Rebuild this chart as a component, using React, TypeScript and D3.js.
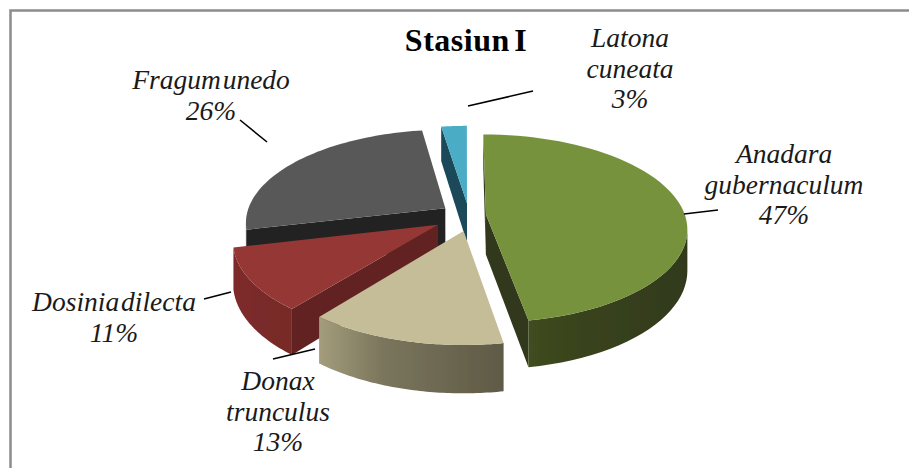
import React from "react";
import * as d3 from "d3";

const categories = ["Anadara gubernaculum", "Donax trunculus", "Dosinia dilecta", "Fragum unedo", "Latona cuneata"];
const shares = [47.3, 13.4, 10.6, 26.3, 2.4];
const labelLines = [["Anadara", "gubernaculum", "47%"], ["Donax", "trunculus", "13%"], ["Dosinia dilecta", "11%"], ["Fragum unedo", "26%"], ["Latona", "cuneata", "3%"]];
const topColors = ["#76923c", "#c4bd97", "#953735", "#595959", "#4bacc6"];
const cutColors = ["#31391a", "#6b6650", "#632320", "#232323", "#1d4a5a"];
const wallLight = ["#4a5a24", "#a39d7c", "#7e2c2a", "#252525", "#1d4a5a"];
const wallDark = ["#31391a", "#5f5a46", "#772a28", "#232323", "#1d4a5a"];

const sliceOffsets: [number, number][] = [[0.1, -0.005], [-0.012, 0.17], [-0.138, 0.105], [-0.105, -0.075], [0.005, -0.13]];
const labelAnchors: [number, number][] = [[784, 163], [278, 390], [114, 311], [211, 89], [630, 47]];
const leaders: [number, number, number, number][] = [[684, 214, 718, 210], [273, 359, 315, 349], [204, 299, 231, 292], [240, 120, 267, 142], [468, 106, 533, 91]];

const cx = 466, cy = 215, R = 199, K = 92, P = 0.147, H = 40;

const project = (u: number, v: number, drop = 0) => {
  const s = 1 / (1 - P * v);
  return [cx + R * u * s, cy + (K * v + drop) * s] as [number, number];
};

const arcs = d3.pie<number>().sort(null).value((d) => d)(shares);
const line = d3.line();

function Slice({ i }: { i: number }) {
  const a = arcs[i];
  const [du, dv] = sliceOffsets[i];
  const n = 60;
  const angles = d3.range(n + 1).map((t) => a.startAngle + ((a.endAngle - a.startAngle) * t) / n);
  const pt = (ang: number, drop = 0) => project(du + Math.sin(ang), dv - Math.cos(ang), drop);
  const apex = project(du, dv), apexB = project(du, dv, H);
  const rim = angles.map((g) => pt(g));
  const rimB = angles.map((g) => pt(g, H));
  const top = [apex, ...rim];
  const xs = rim.map((p) => p[0]);
  const faces: React.ReactElement[] = [];
  const face = (k: string, pts: [number, number][], col: string) =>
    faces.push(<path key={k} d={line(pts) + "Z"} fill={col} />);
  if (rim[0][0] < apex[0]) face("s", [apex, rim[0], rimB[0], apexB], cutColors[i]);
  if (apex[0] < rim[n][0]) face("e", [rim[n], apex, apexB, rimB[n]], cutColors[i]);
  const vis = d3.range(n).filter((t) => rim[t + 1][0] < rim[t][0]);
  const gradId = "wall" + i;
  if (vis.length) {
    const upper = [...vis.map((t) => rim[t]), rim[vis[vis.length - 1] + 1]];
    const lower = [...vis.map((t) => rimB[t]), rimB[vis[vis.length - 1] + 1]].reverse();
    face("w", [...upper, ...lower], `url(#${gradId})`);
  }
  return (
    <g>
      <linearGradient id={gradId} gradientUnits="userSpaceOnUse" x1={d3.min(xs)} x2={d3.max(xs)} y1={0} y2={0}>
        <stop offset="0" stopColor={wallLight[i]} />
        <stop offset="0.35" stopColor={d3.interpolateRgb(wallLight[i], wallDark[i])(0.6)} />
        <stop offset="1" stopColor={wallDark[i]} />
      </linearGradient>
      {faces}
      <path d={line(top) + "Z"} fill={topColors[i]} />
    </g>
  );
}

export default function App() {
  const order = [4, 3, 2, 1, 0];
  return (
    <svg width={909} height={468} style={{ position: "absolute", left: 0, top: 0, background: "#fff" }}>
      <defs>
        <filter id="soft" x="-5%" y="-5%" width="110%" height="110%">
          <feGaussianBlur stdDeviation="0.5" />
        </filter>
      </defs>
      <path d="M10.5 468V10.5H909" fill="none" stroke="#8c8c8c" strokeWidth={2.5} />
      <g filter="url(#soft)">
        {order.map((i) => (
          <Slice key={categories[i]} i={i} />
        ))}
      </g>
      <g stroke="#000" strokeWidth={1.6}>
        {leaders.map((l, i) => (
          <line key={i} x1={l[0]} y1={l[1]} x2={l[2]} y2={l[3]} />
        ))}
      </g>
      <text x={466} y={51} textAnchor="middle" fontFamily="'Liberation Serif'" fontWeight="bold" fontSize={32} letterSpacing={0.5} wordSpacing={-4}>
        Stasiun I
      </text>
      {labelLines.map((ls, i) => (
        <text key={i} textAnchor="middle" fontFamily="'Liberation Serif'" fontStyle="italic" fontSize={27.5} fill="#1a1a1a" wordSpacing={-5}>
          {ls.map((t, j) => (
            <tspan key={j} x={labelAnchors[i][0]} y={labelAnchors[i][1] + j * 30.5}>
              {t}
            </tspan>
          ))}
        </text>
      ))}
    </svg>
  );
}
